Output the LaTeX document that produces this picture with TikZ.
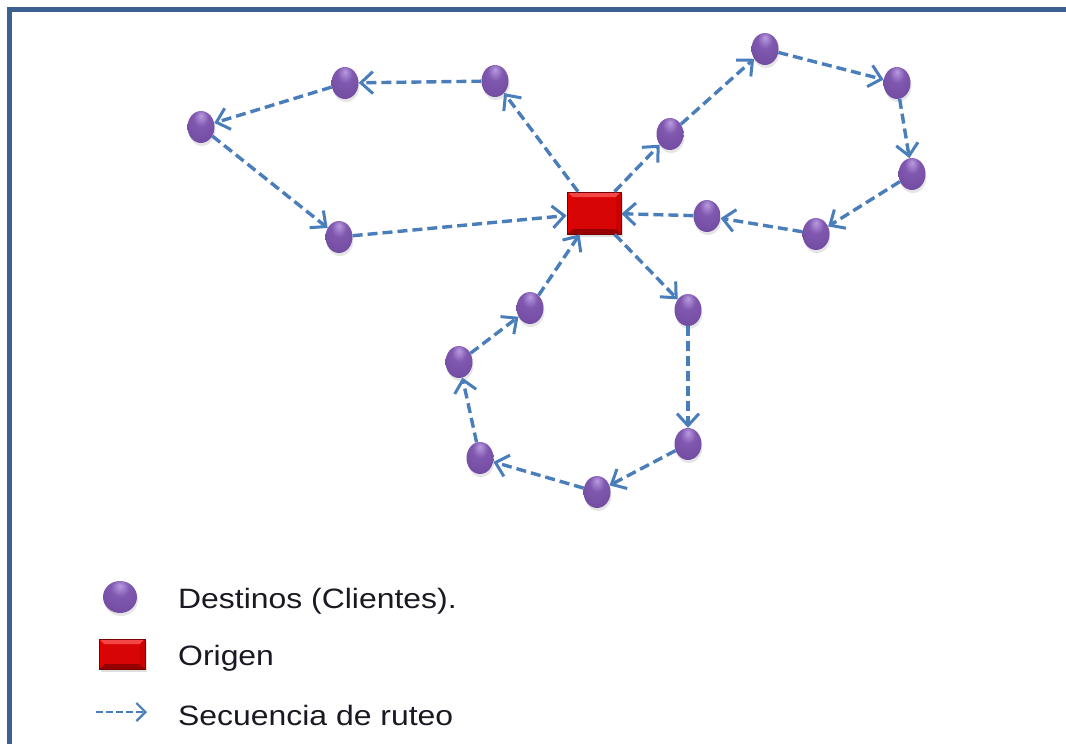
\documentclass[tikz,border=0pt]{standalone}
\usepackage{fontspec}
\setmainfont{Liberation Sans}
\usetikzlibrary{arrows.meta,shadows,shapes.geometric}
\definecolor{frameblue}{RGB}{59,96,145}
\definecolor{routeblue}{RGB}{74,126,187}
\definecolor{plight}{RGB}{185,155,225}
\definecolor{pmid}{RGB}{128,88,175}
\definecolor{pmid2}{RGB}{112,74,160}
\definecolor{pdark}{RGB}{70,40,105}
\definecolor{txt}{RGB}{25,25,35}
\definecolor{redmid}{RGB}{215,5,5}
\definecolor{redlight}{RGB}{245,70,70}
\definecolor{reddark}{RGB}{150,0,0}
\definecolor{redline}{RGB}{120,0,0}
\pgfdeclareradialshading{purpleball}{\pgfpoint{0bp}{18bp}}{%
  color(0bp)=(plight); color(14bp)=(pmid); color(38bp)=(pmid2); color(52bp)=(pdark); color(70bp)=(pdark)}
\begin{document}
\begin{tikzpicture}[x=1pt,y=-1pt,
  client/.style={ellipse, minimum width=27pt, minimum height=32pt, inner sep=0pt,
    shading=purpleball,
    drop shadow={opacity=0.2, shadow xshift=1pt, shadow yshift=-3pt}},
  depot/.style={rectangle, minimum width=54pt, minimum height=42pt, inner sep=0pt,
    fill=redmid, draw=redline, line width=0.8pt,
    drop shadow={opacity=0.25, shadow xshift=2pt, shadow yshift=-3pt},
    path picture={
      \fill[redlight] (path picture bounding box.north west) -- (path picture bounding box.north east)
        -- ([xshift=-5pt,yshift=-5pt]path picture bounding box.north east)
        -- ([xshift=5pt,yshift=-5pt]path picture bounding box.north west) -- cycle;
      \fill[reddark] (path picture bounding box.south west) -- (path picture bounding box.south east)
        -- ([xshift=-5pt,yshift=5pt]path picture bounding box.south east)
        -- ([xshift=5pt,yshift=5pt]path picture bounding box.south west) -- cycle;
      \fill[red!80!black] (path picture bounding box.north east) -- (path picture bounding box.south east)
        -- ([xshift=-5pt,yshift=5pt]path picture bounding box.south east)
        -- ([xshift=-5pt,yshift=-5pt]path picture bounding box.north east) -- cycle;
      \fill[red!90!black] (path picture bounding box.north west) -- (path picture bounding box.south west)
        -- ([xshift=5pt,yshift=5pt]path picture bounding box.south west)
        -- ([xshift=5pt,yshift=-5pt]path picture bounding box.north west) -- cycle;
    }},
  route/.style={draw=routeblue, line width=3.4pt, dash pattern=on 10pt off 5pt,
    -{Straight Barb[length=12pt,width=22pt,line width=3pt]}},
  legtext/.style={anchor=west, text=txt, font=\fontsize{28}{32}\selectfont, inner sep=0pt}]
\useasboundingbox (0,0) rectangle (1066,744);
\fill[white] (0,0) rectangle (1066,744);
\draw[frameblue, line width=5pt] (9,760) -- (9,9) -- (1080,9);

\node[depot] (o) at (594,213) {};
\node[client] (n1) at (345,83) {};
\node[client] (n2) at (495,81) {};
\node[client] (n3) at (201,127) {};
\node[client] (n4) at (339,237) {};
\node[client] (n5) at (765,49) {};
\node[client] (n6) at (897,83) {};
\node[client] (n7) at (670,134) {};
\node[client] (n8) at (912,174) {};
\node[client] (n9) at (707,216) {};
\node[client] (n10) at (816,234) {};
\node[client] (n11) at (530,308) {};
\node[client] (n12) at (688,310) {};
\node[client] (n13) at (459,362) {};
\node[client] (n14) at (688,444) {};
\node[client] (n15) at (480,458) {};
\node[client] (n16) at (597,492) {};

\draw[route] (o) -- (n2);
\draw[route] (n2) -- (n1);
\draw[route] (n1) -- (n3);
\draw[route] (n3) -- (n4);
\draw[route] (n4) -- (o);
\draw[route] (o) -- (n7);
\draw[route] (n7) -- (n5);
\draw[route] (n5) -- (n6);
\draw[route] (n6) -- (n8);
\draw[route] (n8) -- (n10);
\draw[route] (n10) -- (n9);
\draw[route] (n9) -- (o);
\draw[route] (o) -- (n12);
\draw[route] (n12) -- (n14);
\draw[route] (n14) -- (n16);
\draw[route] (n16) -- (n15);
\draw[route] (n15) -- (n13);
\draw[route] (n13) -- (n11);
\draw[route] (n11) -- (o);

% legend
\node[client, minimum width=34pt, minimum height=32pt] (lc) at (120,597) {};
\node[depot, minimum width=46pt, minimum height=30pt] (lo) at (122,654) {};
\coordinate (la) at (96,712);
\coordinate (lb) at (147,712);
\draw[draw=routeblue, line width=2.4pt, dash pattern=on 7pt off 3pt,
  -{Straight Barb[length=9pt,width=18pt,line width=2.2pt]}] (la) -- (lb);
\node[legtext] (t1) at (178,601) {\scalebox{1.14}[1]{Destinos (Clientes).}};
\node[legtext] (t2) at (178,658) {\scalebox{1.14}[1]{Origen}};
\node[legtext] (t3) at (178,715) {\scalebox{1.14}[1]{Secuencia de ruteo}};
\end{tikzpicture}
\end{document}
